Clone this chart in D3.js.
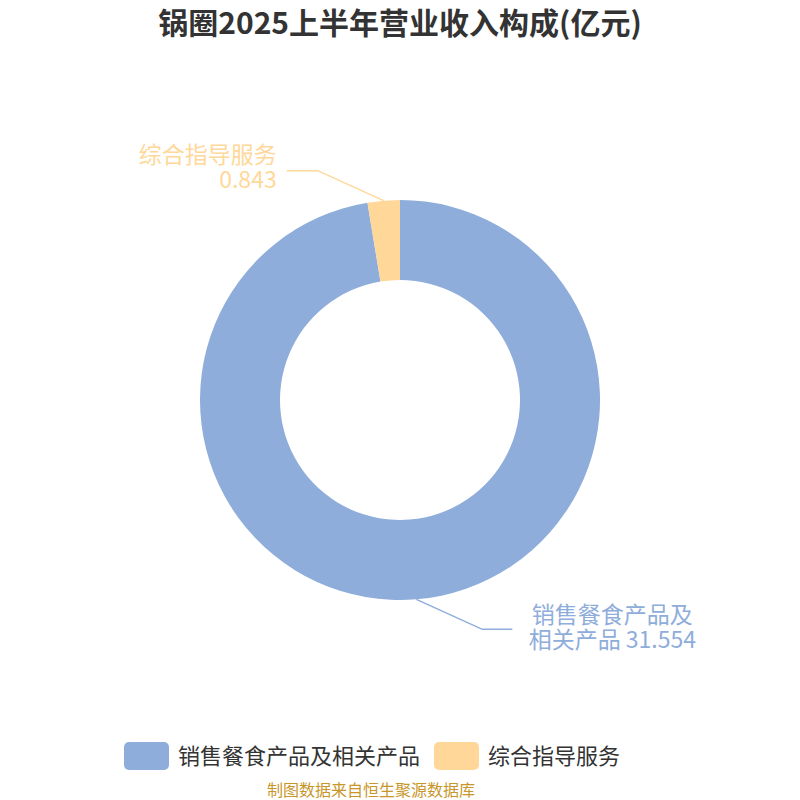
<!DOCTYPE html>
<html><head><meta charset="utf-8">
<script src="https://cdn.jsdelivr.net/npm/d3@7"></script>
<style>body{margin:0;background:#fff}svg{display:block}text{font-family:"Noto Sans CJK SC","Noto Sans",sans-serif}</style>
</head><body>
<svg id="c" width="800" height="800"></svg>
<script>
const title = "锅圈2025上半年营业收入构成(亿元)";
const categories = ["销售餐食产品及相关产品", "综合指导服务"];
const values = [31.554, 0.843];
const colors = ["#8eaddb", "#ffd899"];
const labelLines = [["销售餐食产品及", "相关产品 31.554"], ["综合指导服务", "0.843"]];
const source = "制图数据来自恒生聚源数据库";

const svg = d3.select("#c");
svg.append("text").attr("x", 400).attr("y", 34).attr("text-anchor", "middle")
  .attr("font-size", 30).attr("font-weight", "bold").attr("fill", "#333").text(title);

const cx = 400, cy = 400, R = 200, r = 120;
const data = categories.map((c, i) => ({c, v: values[i], i}));
const pie = d3.pie().value(d => d.v).sort(null);
const arcs = pie(data);
const arc = d3.arc().innerRadius(r).outerRadius(R);
const g = svg.append("g").attr("transform", `translate(${cx},${cy})`);
g.selectAll("path").data(arcs).join("path").attr("d", arc).attr("fill", (d, i) => colors[i]);

const arcL = d3.arc().innerRadius(R).outerRadius(R);
arcs.forEach((a, i) => {
  const p0 = arcL.centroid(a);
  const right = p0[0] > 0;
  const down = p0[1] > 0;
  const p1 = [p0[0] + (right ? 66 : -66), p0[1] + (down ? 30 : -30)];
  const p2 = [p1[0] + (right ? 30 : -31), p1[1]];
  g.append("polyline").attr("points", [p0, p1, p2].map(p => p.join(",")).join(" "))
    .attr("fill", "none").attr("stroke", colors[i]).attr("stroke-width", 1.5);
  const lines = labelLines[i];
  if (right) {
    const t = g.append("text").attr("font-size", 23).attr("fill", colors[i]).attr("text-anchor", "middle");
    const xc = p2[0] + 100;
    lines.forEach((l, k) => t.append("tspan").attr("x", xc).attr("y", p2[1] - 6 + k * 25).text(l));
  } else {
    const t = g.append("text").attr("font-size", 23).attr("fill", colors[i]).attr("text-anchor", "end");
    const xe = p2[0] - 10;
    lines.forEach((l, k) => t.append("tspan").attr("x", xe).attr("y", p2[1] - 8 + k * 25).text(l));
  }
});

// legend
const legendX = [124, 434];
categories.forEach((c, i) => {
  svg.append("rect").attr("x", legendX[i]).attr("y", 742).attr("width", 45).attr("height", 28)
    .attr("rx", 5).attr("fill", colors[i]);
  svg.append("text").attr("x", legendX[i] + 54).attr("y", 764).attr("font-size", 22)
    .attr("fill", "#333").text(c);
});
svg.append("text").attr("x", 371).attr("y", 796).attr("text-anchor", "middle").attr("font-size", 16)
  .attr("fill", "#c8962a").text(source);
</script>
</body></html>
